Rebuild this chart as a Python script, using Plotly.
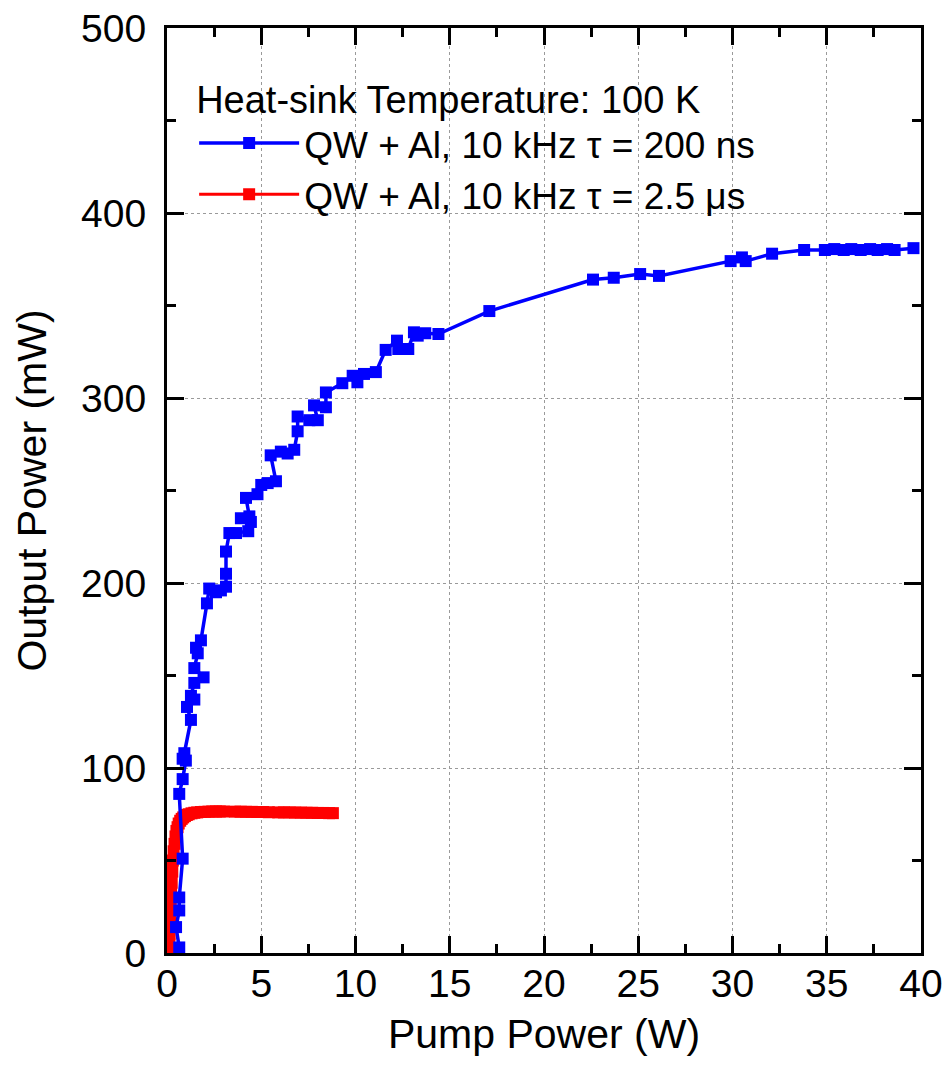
import plotly.graph_objects as go

# Blue series: QW + Al, 10 kHz, tau = 200 ns
blue_x = [0.65, 0.48, 0.65, 0.65, 0.83, 0.65, 0.83, 1.0, 0.83, 0.92, 1.27, 1.06, 1.45, 1.27,
          1.45, 1.94, 1.45, 1.63, 1.54, 1.8, 2.12, 2.24, 2.6, 2.86, 3.13, 3.13, 3.13, 3.31,
          3.66, 4.31, 4.45, 3.92, 4.37, 4.19, 4.8, 5.0, 5.34, 5.78, 5.5, 6.04, 6.4, 6.75,
          6.93, 6.93, 7.55, 8.0, 7.8, 8.43, 8.43, 9.3, 9.85, 10.1, 10.45, 11.08, 11.6, 12.2,
          12.27, 12.8, 13.1, 13.3, 13.7, 14.4, 17.1, 22.6, 23.7, 25.1, 26.1, 29.9, 30.5,
          30.7, 32.1, 33.8, 34.9, 35.4, 35.9, 36.3, 36.8, 37.3, 37.7, 38.2, 38.6, 39.6]
blue_y = [3, 14, 23, 30, 51, 86, 94, 104, 105, 108, 126, 133, 137, 139,
          146, 149, 154, 162, 165, 169, 189, 197, 195, 196, 198, 205, 217, 227,
          227, 228, 233, 235, 236, 246, 248, 253, 254, 255, 269, 271, 270, 272,
          282, 290, 288, 288, 296, 295, 303, 308, 312, 308.5, 313, 314, 326, 331,
          326.5, 326.5, 335.5, 333.7, 335, 334.6, 347, 364, 365, 367, 366, 374, 376,
          374, 378, 380, 380, 380.5, 380, 380.5, 380, 380.5, 380, 380.5, 380, 381]

# Red series: QW + Al, 10 kHz, tau = 2.5 us
red_x = [0.10, 0.12, 0.14, 0.16, 0.18, 0.20, 0.22, 0.25, 0.28, 0.31, 0.35, 0.40, 0.45, 0.50,
         0.56, 0.62, 0.70, 0.78, 0.86, 0.95, 1.05, 1.15, 1.30, 1.45, 1.60, 1.80, 2.00, 2.20,
         2.40, 2.60, 2.80, 3.00, 3.60, 3.90, 4.20, 4.50, 4.80, 5.10, 5.40, 5.90, 6.20, 6.50,
         6.80, 7.10, 7.40, 7.70, 8.00, 8.30, 8.60, 8.80]
red_y = [0, 5, 10, 15, 20, 26, 32, 38, 44, 50, 55, 59, 63, 66,
         68, 70, 71.5, 72.5, 73.3, 74, 74.6, 75, 75.5, 75.8, 76, 76.2, 76.3, 76.4,
         76.5, 76.5, 76.5, 76.5, 76.4, 76.4, 76.3, 76.3, 76.2, 76.2, 76.1, 76.0, 76.0, 76.0,
         75.9, 75.9, 75.8, 75.8, 75.7, 75.7, 75.6, 75.6]

blue_name = "QW + Al, 10 kHz \u03c4 = 200 ns"
red_name = "QW + Al, 10 kHz \u03c4 = 2.5 \u03bcs"
legend_title = "Heat-sink Temperature: 100 K"

x_ticks = [0, 5, 10, 15, 20, 25, 30, 35, 40]
y_ticks = [0, 100, 200, 300, 400, 500]

FONT = "Liberation Sans, Arial, sans-serif"

fig = go.Figure()
fig.add_trace(go.Scatter(
    x=red_x, y=red_y, mode="lines+markers", name=red_name,
    line=dict(color="#ff0000", width=3),
    marker=dict(symbol="square", size=12, color="#ff0000"),
))
fig.add_trace(go.Scatter(
    x=blue_x, y=blue_y, mode="lines+markers", name=blue_name,
    line=dict(color="#0000ff", width=3.5),
    marker=dict(symbol="square", size=12, color="#0000ff"),
))

axis_common = dict(
    showline=True, linecolor="black", linewidth=3, mirror="allticks",
    ticks="inside", ticklen=17, tickwidth=3, tickcolor="black",
    showgrid=True, gridcolor="#9a9a9a", gridwidth=1, griddash="dot",
    zeroline=False, automargin=False, ticklabeloverflow="allow",
    tickfont=dict(family=FONT, size=39, color="black"),
    title_font=dict(family=FONT, size=41, color="black"),
)

fig.update_xaxes(
    range=[0, 40], tickvals=x_ticks, ticktext=[str(v) for v in x_ticks],
    title_text="Pump Power (W)", title_standoff=16,
    minor=dict(ticks="inside", ticklen=9, tickwidth=3, tickcolor="black", dtick=2.5,
               showgrid=False),
    ticklabelstandoff=-6,
    **axis_common,
)
fig.update_yaxes(
    range=[0, 500], tickvals=y_ticks, ticktext=[str(v) for v in y_ticks],
    title_text="Output Power (mW)", title_standoff=22,
    minor=dict(ticks="inside", ticklen=9, tickwidth=3, tickcolor="black", dtick=50,
               showgrid=False),
    ticklabelstandoff=10,
    **axis_common,
)

# The page body adds an 8 px offset, so the figure is sized to fit the window.
fig.update_layout(
    width=942, height=1060,
    margin=dict(l=159, r=29, t=20, b=115),
    paper_bgcolor="white", plot_bgcolor="white",
    font=dict(family=FONT, color="black"),
    legend=dict(
        title=dict(text=legend_title, font=dict(family=FONT, size=38, color="black")),
        font=dict(family=FONT, size=37, color="black"),
        x=0.036, y=0.962, xanchor="left", yanchor="top",
        bgcolor="rgba(255,255,255,0)", borderwidth=0,
        traceorder="reversed", itemwidth=100,
        tracegroupgap=0,
    ),
    showlegend=True,
)

fig.write_html("out.html")
